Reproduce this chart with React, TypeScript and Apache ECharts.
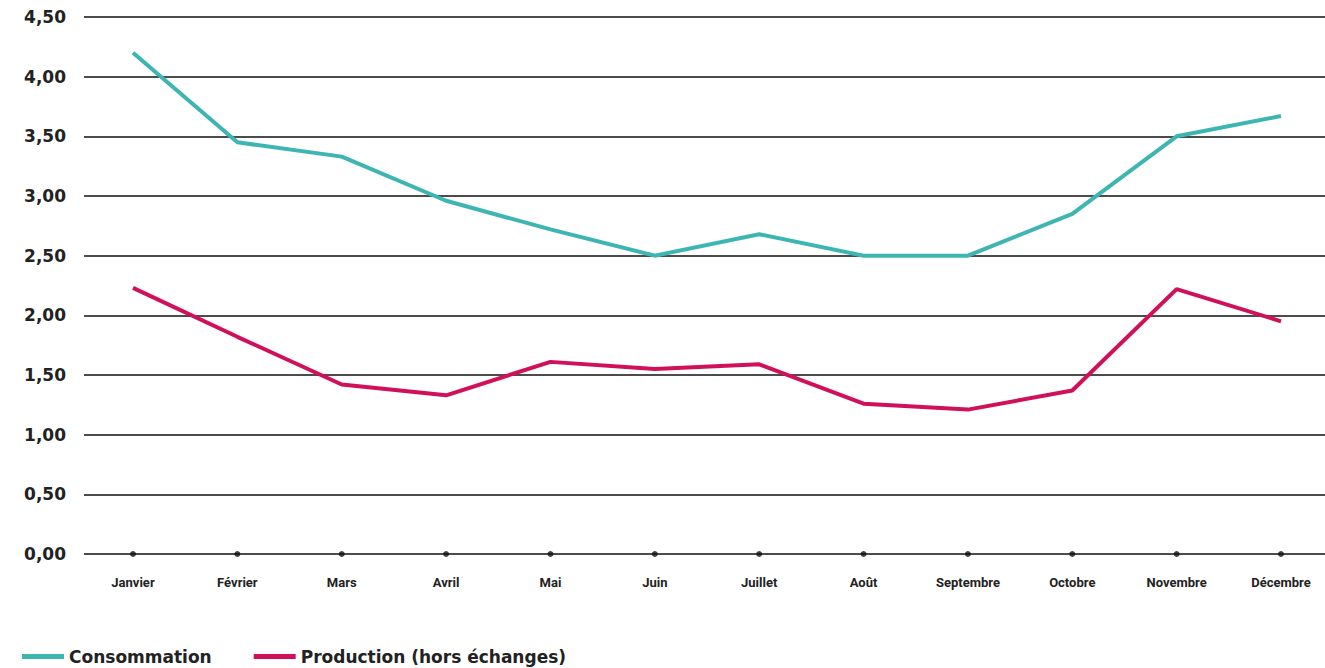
import React, { useEffect, useRef } from "react";
import * as echarts from "echarts";

const months = ["Janvier", "Février", "Mars", "Avril", "Mai", "Juin", "Juillet", "Août", "Septembre", "Octobre", "Novembre", "Décembre"];
const consommation = [4.2, 3.45, 3.33, 2.96, 2.72, 2.5, 2.68, 2.5, 2.5, 2.85, 3.5, 3.67];
const production = [2.23, 1.82, 1.42, 1.33, 1.61, 1.55, 1.59, 1.26, 1.21, 1.37, 2.22, 1.95];
const baseline = [0, 0, 0, 0, 0, 0, 0, 0, 0, 0, 0, 0];
const seriesNames = ["Consommation", "Production (hors échanges)"];

export default function App() {
  const ref = useRef<HTMLDivElement>(null);
  useEffect(() => {
    document.body.style.margin = "0";
    const chart = echarts.init(ref.current!, null, { renderer: "svg" });
    const yCommon = { type: "value", min: 0, max: 4.5, interval: 0.5 };
    const font = "DejaVu Sans, Open Sans, sans-serif";
    chart.setOption({
      animation: false,
      backgroundColor: "#ffffff",
      grid: [
        { left: 84, right: 0, top: 17, bottom: 114 },
        { left: 133, right: 44, top: 17, bottom: 114 },
      ],
      xAxis: [
        { type: "category", gridIndex: 0, data: months, show: false },
        {
          type: "category",
          gridIndex: 1,
          data: months,
          boundaryGap: false,
          axisLine: { show: false },
          axisTick: { show: false },
          axisLabel: {
            margin: 22,
            color: "#222",
            fontSize: 13,
            fontWeight: "bold",
            fontFamily: "Liberation Sans Narrow, Roboto, sans-serif",
            interval: 0,
          },
        },
      ],
      yAxis: [
        {
          ...yCommon,
          gridIndex: 0,
          axisLine: { show: false },
          axisTick: { show: false },
          splitLine: { show: true, lineStyle: { color: "#111", width: 1.5 } },
          axisLabel: {
            margin: 18,
            color: "#222",
            fontSize: 17,
            fontWeight: "bold",
            fontFamily: font,
            formatter: (v: number) => v.toFixed(2).replace(".", ","),
          },
        },
        { ...yCommon, gridIndex: 1, show: false },
      ],
      legend: {
        data: seriesNames,
        left: 22,
        top: 648,
        padding: 0,
        icon: "rect",
        itemWidth: 42,
        itemHeight: 5,
        itemGap: 42,
        textStyle: { color: "#222", fontSize: 17, fontWeight: "bold", fontFamily: font },
      },
      series: [
        {
          name: seriesNames[0],
          type: "line",
          xAxisIndex: 1,
          yAxisIndex: 1,
          data: consommation,
          showSymbol: false,
          symbol: "none",
          lineStyle: { color: "#3db5b3", width: 4 },
          itemStyle: { color: "#3db5b3" },
          clip: false,
        },
        {
          name: seriesNames[1],
          type: "line",
          xAxisIndex: 1,
          yAxisIndex: 1,
          data: production,
          showSymbol: false,
          symbol: "none",
          lineStyle: { color: "#d0105a", width: 4 },
          itemStyle: { color: "#d0105a" },
          clip: false,
        },
        {
          name: "ticks",
          type: "scatter",
          xAxisIndex: 1,
          yAxisIndex: 1,
          data: baseline,
          symbolSize: 6,
          itemStyle: { color: "#111" },
          clip: false,
          silent: true,
        },
      ],
    });
    return () => chart.dispose();
  }, []);
  return <div ref={ref} style={{ width: 1325, height: 668 }} />;
}
